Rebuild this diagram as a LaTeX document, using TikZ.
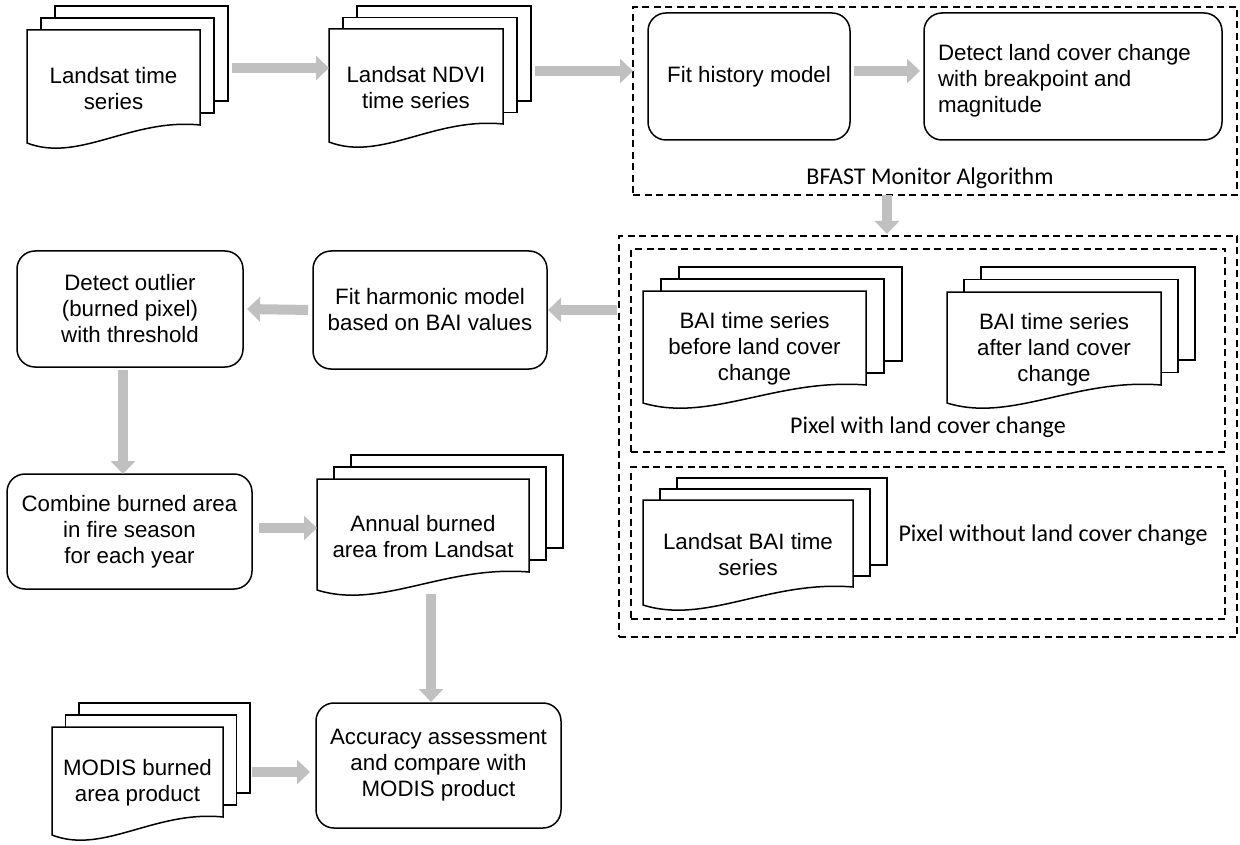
\documentclass[tikz,border=0pt]{standalone}
\usepackage{fontspec}
\setmainfont{Liberation Sans}
\newfontfamily\calib{Carlito}
\usetikzlibrary{arrows.meta,calc}
\definecolor{agray}{RGB}{192,192,192}

\newcommand\docstack[8]{% name, x0, top, w, hr, dx, dy, text
  \pgfmathsetmacro\dsH{#5+22}
  \path[sheet] (#2+2*#6,#3-2*#7) rectangle (#2+2*#6+#4,#3-2*#7+#5);
  \path[sheet] (#2+#6,#3-#7) rectangle (#2+#6+#4,#3-#7+#5);
  \path[sheet] (#2,#3) -- (#2+#4,#3) -- (#2+#4,#3+#5)
     .. controls (#2+0.6*#4,#3+#5-7) and (#2+0.3*#4,#3+#5+38) .. (#2,#3+#5+18) -- cycle;
  \node[minimum width=#4pt, minimum height=\dsH pt, align=center] (#1) at (#2+0.5*#4,#3+0.5*\dsH) {#8};
  \node[minimum width=#4pt, minimum height=#5pt] (#1b) at (#2+2*#6+0.5*#4,#3-2*#7+0.5*#5) {};
}

\begin{document}
\begin{tikzpicture}[x=1pt,y=-1pt,
  every node/.style={font=\fontsize{22.3}{26}\selectfont, inner sep=0pt, outer sep=0pt},
  rbox/.style={draw, line width=1.5pt, rounded corners=18pt, align=center},
  dbox/.style={draw, line width=1.3pt, dash pattern=on 7pt off 4.5pt},
  sheet/.style={draw, line width=1.5pt, fill=white},
  garrow/.style={draw=agray, line width=10pt, -{Triangle[length=13pt,width=24pt]}, color=agray},
  lbl/.style={font=\calib\fontsize{24}{28}\selectfont},
]
\useasboundingbox (0,0) rectangle (1240,845);

% dashed groups
\node[dbox, minimum width=604pt, minimum height=188pt] (bfast) at (935,101) {};
\node[dbox, minimum width=618pt, minimum height=401pt] (outer) at (928,436.5) {};
\node[dbox, minimum width=594pt, minimum height=203pt] (in1) at (928,350.5) {};
\node[dbox, minimum width=594pt, minimum height=152pt] (in2) at (928,543) {};

\node[lbl] (lbf) at (930,178) {BFAST Monitor Algorithm};
\node[lbl] (lw) at (928,427) {Pixel with land cover change};
\node[lbl] (lwo) at (1053,535) {Pixel without land cover change};

% document stacks
\docstack{s1}{27}{30}{173}{95}{14}{12}{Landsat time\\series}
\docstack{s2}{329}{29}{174}{95}{14}{11.5}{Landsat NDVI\\time series}
\docstack{bb}{643}{291}{223}{94}{18}{12}{BAI time series\\before land cover\\change}
\docstack{ba}{947}{292}{214}{93}{17}{12.5}{BAI time series\\after land cover\\change}
\docstack{lb}{643}{500}{210}{87}{17}{11}{Landsat BAI time\\series}
\docstack{an}{317}{479}{212}{93}{17}{12}{Annual burned\\area from Landsat}
\docstack{mo}{52}{727}{171}{90}{13.5}{12}{MODIS burned\\area product}

% process boxes
\node[rbox, minimum width=202pt, minimum height=127pt] (fit) at (749,76.5) {Fit history model};
\node[rbox, minimum width=298pt, minimum height=127pt] (det) at (1073,76.5) {};
\node[anchor=west, align=left] (dett) at (938,81) {Detect land cover change\\with breakpoint and\\magnitude};
\node[rbox, minimum width=234pt, minimum height=118pt] (har) at (430,310) {Fit harmonic model\\based on BAI values};
\node[rbox, minimum width=226pt, minimum height=116pt] (out) at (130,309) {Detect outlier\\(burned pixel)\\with threshold};
\node[rbox, minimum width=245pt, minimum height=115pt] (com) at (129.5,531.5) {Combine burned area\\in fire season\\for each year};
\node[rbox, minimum width=245pt, minimum height=125pt] (acc) at (438.5,765.5) {Accuracy assessment\\and compare with\\MODIS product};

% helper coordinates
\coordinate (ya) at (0,68);
\coordinate (yb) at (0,71);
\coordinate (yc) at (0,528);
\coordinate (ym) at (0,772);
\coordinate (mid) at ($(fit.east)!0.5!(det.west)$);
\coordinate (xo) at (123,0);
\coordinate (xa) at (431,0);

% arrows
\draw[garrow, shorten <=4pt] (s1b.east |- ya) -- (s2.west |- ya);
\draw[garrow, shorten <=4pt] (s2b.east |- yb) -- (bfast.west |- yb);
\draw[garrow, shorten <=4pt, shorten >=4pt] (fit.east |- yb) -- (det.west |- yb);
\draw[garrow, shorten >=2pt] (bfast.south -| mid) -- (outer.north -| mid);
\draw[garrow, shorten <=2pt, shorten >=1pt] (outer.west |- har) -- (har.east);
\draw[garrow, shorten <=5pt, shorten >=4pt] (har.west) -- (out.east);
\draw[garrow, shorten <=3pt] (out.south -| xo) -- (com.north -| xo);
\draw[garrow, shorten <=7pt] (com.east |- yc) -- (an.west |- yc);
\draw[garrow, shorten >=1pt] (an.south -| xa) -- (acc.north -| xa);
\draw[garrow, shorten <=2pt, shorten >=6pt] (mob.east |- ym) -- (acc.west |- ym);
\end{tikzpicture}
\end{document}
